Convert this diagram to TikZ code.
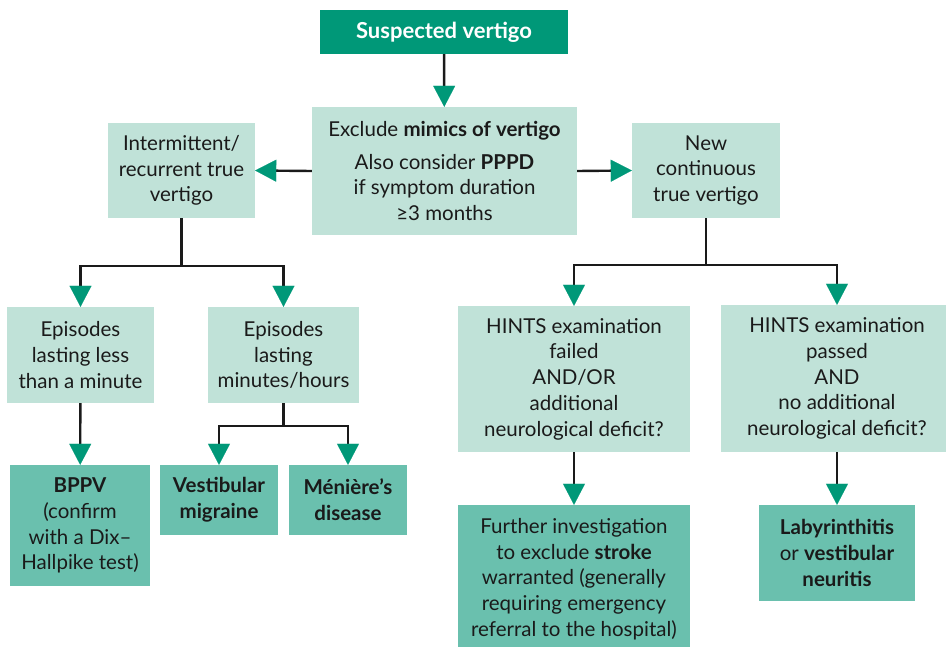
\documentclass[tikz,border=0pt]{standalone}
\usepackage{fontspec}
\setmainfont{Lato}
\usetikzlibrary{arrows.meta}
\definecolor{darkteal}{HTML}{009878}
\definecolor{midteal}{HTML}{6AC0AE}
\definecolor{paleteal}{HTML}{C0E2D8}
\definecolor{inkgray}{HTML}{1A1A1A}
\begin{document}
\begin{tikzpicture}[x=1pt,y=-1pt,
basenode/.style={align=center, inner sep=0pt, text=inkgray, font=\fontsize{20.5}{25.7}\selectfont},
palenode/.style={basenode, fill=paleteal},
resultnode/.style={basenode, fill=midteal},
startnode/.style={basenode, fill=darkteal, text=white, font=\fontsize{22}{24}\selectfont\bfseries},
flow/.style={line width=2.4pt, draw=inkgray, -{Triangle[width=22pt,length=21pt,color=darkteal,line width=0.1pt]}},
]
    \useasboundingbox (0,0) rectangle (946,647);
    \node[startnode, minimum width=248, minimum height=44](suspect) at (444,32) {Suspected vertigo};
    \node[palenode, minimum width=265, minimum height=128](exclude) at (444.5,171) {Exclude \textbf{mimics of vertigo}\\[7pt]Also consider \textbf{PPPD}\\if symptom duration\\≥3 months};
    \node[palenode, minimum width=147, minimum height=95](recur) at (181.5,170.5) {Intermittent/\\recurrent true\\vertigo};
    \node[palenode, minimum width=148, minimum height=95](newcont) at (706,170.5) {New\\continuous\\true vertigo};
    \node[palenode, minimum width=147, minimum height=96](short) at (80.5,355) {Episodes\\lasting less\\than a minute};
    \node[palenode, minimum width=151, minimum height=96](long) at (283.5,355) {Episodes\\lasting\\minutes/hours};
    \node[resultnode, minimum width=140, minimum height=121](bppv) at (80,525.5) {\textbf{BPPV}\\(confirm\\with a Dix--\\Hallpike test)};
    \node[resultnode, minimum width=118, minimum height=70](vmig) at (219,500) {\textbf{Vestibular}\\\textbf{migraine}};
    \node[resultnode, minimum width=118, minimum height=70](meniere) at (348,500) {\textbf{Ménière’s}\\\textbf{disease}};
    \node[palenode, minimum width=232, minimum height=146](hfail) at (574,379) {HINTS examination\\failed\\AND/OR\\additional\\neurological deficit?};
    \node[palenode, minimum width=232, minimum height=147](hpass) at (837,378.5) {HINTS examination\\passed\\AND\\no additional\\neurological deficit?};
    \node[resultnode, minimum width=232, minimum height=148](stroke) at (574,579) {Further investigation\\to exclude \textbf{stroke}\\warranted (generally\\requiring emergency\\referral to the hospital)};
    \node[resultnode, minimum width=156, minimum height=96](laby) at (837,553) {\textbf{Labyrinthitis}\\or \textbf{vestibular}\\\textbf{neuritis}};
    \coordinate (lsplit) at (181.5,266);
    \coordinate (msplit) at (283.5,426);
    \coordinate (rsplit) at (706,265);
    \draw[flow] (suspect) -- (exclude);
    \draw[flow] (exclude.west) -- (recur.east);
    \draw[flow] (exclude.east) -- (newcont.west);
    \draw[flow] (recur.south) -- (lsplit) -| (short.north);
    \draw[flow] (lsplit) -| (long.north);
    \draw[flow] (short) -- (bppv);
    \draw[flow] (long.south) -- (msplit) -| (vmig.north);
    \draw[flow] (msplit) -| (meniere.north);
    \draw[flow] (newcont.south) -- (rsplit) -| (hfail.north);
    \draw[flow] (rsplit) -| (hpass.north);
    \draw[flow] (hfail) -- (stroke);
    \draw[flow] (hpass) -- (laby);
\end{tikzpicture}
\end{document}
